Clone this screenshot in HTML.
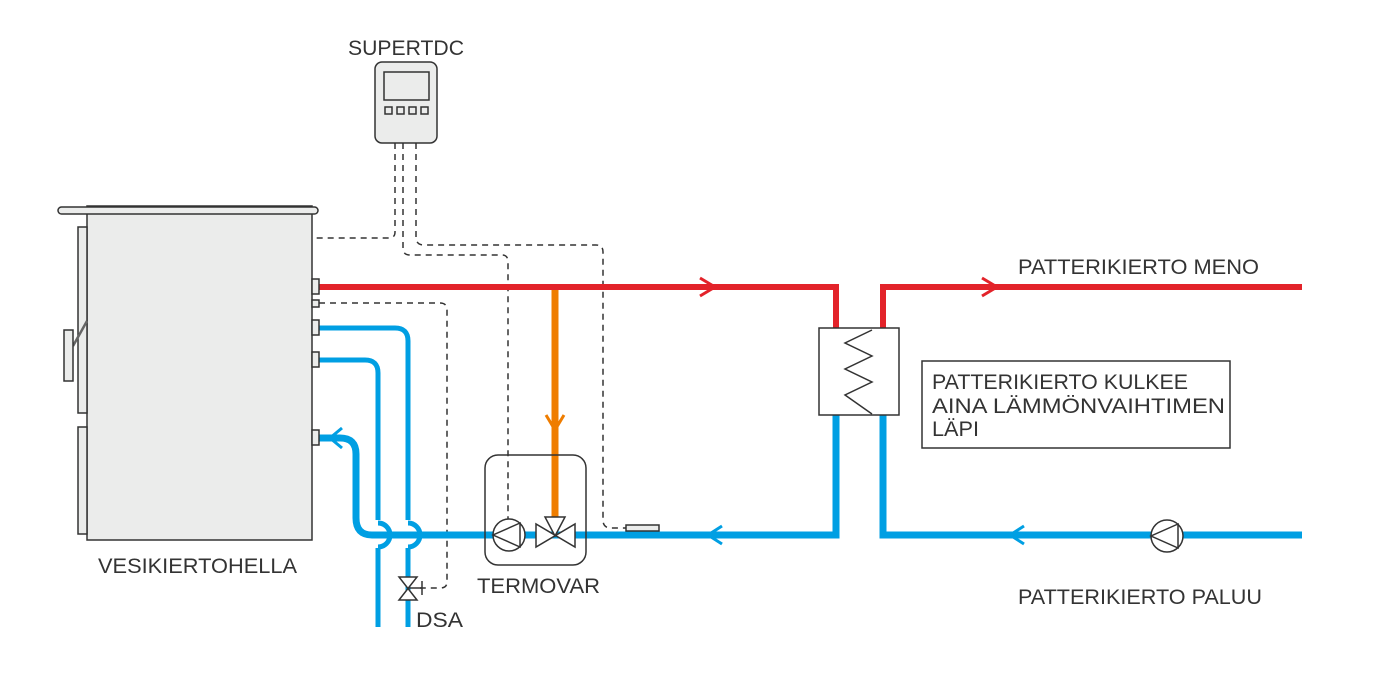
<!DOCTYPE html>
<html><head><meta charset="utf-8"><style>
html,body{margin:0;padding:0;background:#fff;}
svg{display:block;}
text{font-family:"Liberation Sans",sans-serif;fill:#333;font-size:21px;}
</style></head><body>
<svg width="1380" height="688" viewBox="0 0 1380 688" xmlns="http://www.w3.org/2000/svg">
<g fill="none" stroke="#333" stroke-width="1.5" stroke-dasharray="6,5">
<path d="M395,143 V232 Q395,238 389,238 H313"/>
<path d="M403,143 V248 Q403,255 410,255 H502 Q508,255 508,262 V522"/>
<path d="M416,143 V237 Q416,245 424,245 H596 Q603,245 603,252 V520 Q603,528 611,528 H626"/>
<path d="M319,303 H440 Q447,303 447,310 V582 Q447,588 440,588 H420"/>
</g>
<g fill="none" stroke="#e3232a" stroke-width="6">
<path d="M319,287 H836 V328"/>
<path d="M883,328 V287 H1302"/>
</g>
<g fill="none" stroke="#e3232a" stroke-width="3">
<path d="M700,278 L715,287 L700,296"/>
<path d="M982,278 L997,287 L982,296"/>
</g>
<path d="M555,290 V522" stroke="#ef7d00" stroke-width="7" fill="none"/>
<path d="M546,415 L555,430 L564,415" stroke="#ef7d00" stroke-width="3" fill="none"/>
<g fill="none" stroke="#009fe3">
<path d="M319,328 H395 Q408,328 408,341 V520" stroke-width="5"/>
<path d="M408,548 V627" stroke-width="5"/>
<path d="M319,360 H365 Q378,360 378,373 V520" stroke-width="5"/>
<path d="M378,548 V627" stroke-width="5"/>
<path d="M319,438 H340 Q356,438 356,454 V518 Q356,535 372,535 H836 V415" stroke-width="7"/>
<path d="M883,415 V535 H1302" stroke-width="7"/>
<path d="M378,523 A12,12 0 0 1 378,547" stroke-width="5"/>
<path d="M408,523 A12,12 0 0 1 408,547" stroke-width="5"/>
<path d="M342,428 L330,438 L342,448" stroke-width="3"/>
<path d="M722,526 L708,535 L722,544" stroke-width="3"/>
<path d="M1024,526 L1010,535 L1024,544" stroke-width="3"/>
</g>
<g stroke="#333" stroke-width="1.5" fill="#ebeceb">
<rect x="87" y="206" width="225" height="334"/>
<rect x="58" y="207" width="260" height="7" rx="3.5"/>
<rect x="78" y="227" width="9" height="186"/>
<rect x="78" y="427" width="9" height="107"/>
<path d="M73,346 L87,321" fill="none" stroke="#666" stroke-width="2.5"/>
<rect x="64" y="330" width="9" height="51"/>
<rect x="312" y="279" width="7" height="15"/>
<rect x="312" y="300" width="7" height="7"/>
<rect x="312" y="320" width="7" height="15"/>
<rect x="312" y="352" width="7" height="15"/>
<rect x="312" y="430" width="7" height="15"/>
</g>
<g stroke="#333" stroke-width="1.5">
<rect x="375" y="62" width="62" height="81" rx="7" fill="#ebeceb"/>
<rect x="384" y="72" width="45" height="28" fill="#ebeceb"/>
<rect x="385" y="107" width="7" height="7" fill="none"/>
<rect x="397" y="107" width="7" height="7" fill="none"/>
<rect x="409" y="107" width="7" height="7" fill="none"/>
<rect x="421" y="107" width="7" height="7" fill="none"/>
</g>
<rect x="819" y="328" width="80" height="87" fill="#fff" stroke="#333" stroke-width="1.5"/>
<path d="M872,330 L845,343 L872,356 L845,369 L872,382 L845,395 L872,414" fill="none" stroke="#333" stroke-width="1.5"/>
<rect x="485" y="455" width="101" height="110" rx="13" fill="none" stroke="#333" stroke-width="1.5"/>
<g stroke="#333" stroke-width="1.5" fill="#fff">
<circle cx="509" cy="535" r="16"/>
<path d="M520,523 L493,535 L520,547 Z" fill="none"/>
<path d="M536,524 L536,547 L575,524 L575,547 Z"/>
<path d="M545,517 L565,517 L555,536 Z"/>
<rect x="626" y="525" width="33" height="6" fill="#ebeceb"/>
<circle cx="1167" cy="536" r="16"/>
<path d="M1178,524 L1151,536 L1178,548 Z" fill="none"/>
<path d="M399,577 L417,577 L399,600 L417,600 Z"/>
<path d="M408,588 H422 M422,581 V595" fill="none"/>
</g>
<rect x="922" y="361" width="308" height="87" fill="none" stroke="#333" stroke-width="1.5"/>
<text x="348" y="55" textLength="116" lengthAdjust="spacingAndGlyphs">SUPERTDC</text>
<text x="98" y="573" textLength="199" lengthAdjust="spacingAndGlyphs">VESIKIERTOHELLA</text>
<text x="477" y="593" textLength="123" lengthAdjust="spacingAndGlyphs">TERMOVAR</text>
<text x="416" y="627" textLength="47" lengthAdjust="spacingAndGlyphs">DSA</text>
<text x="1018" y="274" textLength="241" lengthAdjust="spacingAndGlyphs">PATTERIKIERTO MENO</text>
<text x="1018" y="604" textLength="244" lengthAdjust="spacingAndGlyphs">PATTERIKIERTO PALUU</text>
<text x="932" y="389" textLength="256" lengthAdjust="spacingAndGlyphs">PATTERIKIERTO KULKEE</text>
<text x="932" y="413" textLength="293" lengthAdjust="spacingAndGlyphs">AINA LÄMMÖNVAIHTIMEN</text>
<text x="932" y="436" textLength="47" lengthAdjust="spacingAndGlyphs">LÄPI</text>
</svg>
</body></html>
